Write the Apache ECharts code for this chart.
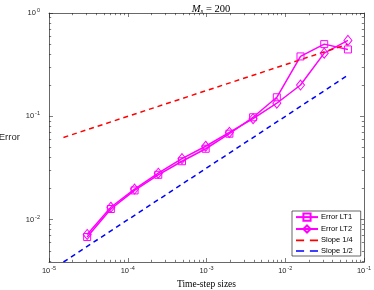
<!DOCTYPE html>
<html><head><meta charset="utf-8">
<script src="https://cdn.jsdelivr.net/npm/echarts@6/dist/echarts.min.js"></script>
<style>html,body{margin:0;padding:0;background:#fff}#c{width:374px;height:290px}</style>
</head><body><div id="c"></div>
<script>
// Data
const dt = [3.0518e-5, 6.1035e-5, 1.2207e-4, 2.4414e-4, 4.8828e-4, 9.7656e-4, 1.9531e-3, 3.9063e-3, 7.8125e-3, 1.5625e-2, 3.125e-2, 6.25e-2];
const errLT1 = [0.0068, 0.0127, 0.0192, 0.0272, 0.0368, 0.0486, 0.068, 0.098, 0.153, 0.38, 0.50, 0.444];
const errLT2 = [0.0072, 0.0132, 0.0198, 0.0282, 0.039, 0.0514, 0.070, 0.095, 0.134, 0.201, 0.409, 0.543];
const slopeX = [1.5259e-5, 6.25e-2];
const slope14Y = [0.0625, 0.5];
const slope12Y = [0.0039, 0.25];
const xMajor = [1e-5, 1e-4, 1e-3, 1e-2, 1e-1];
const yMajor = [1e-2, 1e-1, 1];
const names = ['Error LT1', 'Error LT2', 'Slope 1/4', 'Slope 1/2'];
const xMin = 1e-5, xMax = 1e-1, yMin = 0.0039, yMax = 1;

function minorVals(lo, hi) {
  const out = [];
  for (let e = Math.floor(Math.log10(lo)); e < Math.ceil(Math.log10(hi)); e++) {
    for (let m = 2; m <= 9; m++) {
      const v = m * Math.pow(10, e);
      if (v > lo && v < hi) out.push(v);
    }
  }
  return out;
}
const xMinor = minorVals(xMin, xMax);
const yMinor = minorVals(yMin, yMax);
const axisCol = '#262626';
const sans = 'Liberation Sans';
const serif = 'Liberation Serif';
function powLabel(v) {
  const e = Math.round(Math.log10(v));
  return '{b|10}{e|' + e + '}';
}
const rich = {
  b: {fontFamily: sans, fontSize: 7.5, color: axisCol, lineHeight: 11, verticalAlign: 'middle'},
  e: {fontFamily: sans, fontSize: 5.5, color: axisCol, lineHeight: 11, verticalAlign: 'top', padding: [0, 0, 0, 1]}
};
function xAx(pos, major, withLabel) {
  return {
    type: 'log', min: xMin, max: xMax, position: pos,
    axisLine: {show: major, lineStyle: {color: axisCol, width: 0.7}},
    axisTick: {show: true, inside: true, length: major ? 4 : 2.2, customValues: major ? xMajor : xMinor,
      lineStyle: {color: axisCol, width: 0.6}},
    axisLabel: withLabel ? {show: true, customValues: xMajor, formatter: powLabel, rich: rich, margin: 3} : {show: false},
    splitLine: {show: false}, minorTick: {show: false}
  };
}
function yAx(pos, major, withLabel) {
  return {
    type: 'log', min: yMin, max: yMax, position: pos,
    axisLine: {show: major, lineStyle: {color: axisCol, width: 0.7}},
    axisTick: {show: true, inside: true, length: major ? 4 : 2.2, customValues: major ? yMajor : yMinor,
      lineStyle: {color: axisCol, width: 0.6}},
    axisLabel: withLabel ? {show: true, customValues: yMajor, formatter: powLabel, rich: rich, margin: 9} : {show: false},
    splitLine: {show: false}, minorTick: {show: false}
  };
}
const xAxes = [xAx('bottom', true, true), xAx('bottom', false, false), xAx('top', true, false), xAx('top', false, false)];
xAxes[0].name = 'Time-step sizes';
xAxes[0].nameLocation = 'middle';
xAxes[0].nameGap = 17;
xAxes[0].nameTextStyle = {fontFamily: serif, fontSize: 9.5, color: '#000'};
const yAxes = [yAx('left', true, true), yAx('left', false, false), yAx('right', true, false), yAx('right', false, false)];
yAxes[0].name = 'Error';
yAxes[0].nameLocation = 'middle';
yAxes[0].nameRotate = 0;
yAxes[0].nameGap = 25;
yAxes[0].nameTextStyle = {fontFamily: sans, fontSize: 9.5, color: axisCol, align: 'right'};

const pair = (xs, ys) => xs.map((x, i) => [x, ys[i]]);
const magenta = '#ff00ff';
const dashIcon = 'path://M0,0h7v1.5h-7z M12,0h7v1.5h-7z';
const chart = echarts.init(document.getElementById('c'), null, {renderer: 'canvas'});
chart.setOption({
  animation: false,
  backgroundColor: '#fff',
  title: {
    text: '{i|M}{s|s}{n| = 200}', left: 206, textAlign: 'center', top: -3,
    textStyle: {fontWeight: 'normal', rich: {
      i: {fontFamily: serif, fontStyle: 'italic', fontWeight: 'normal', fontSize: 10.5, color: '#000', verticalAlign: 'bottom', lineHeight: 13},
      s: {fontFamily: serif, fontStyle: 'italic', fontWeight: 'normal', fontSize: 7, color: '#000', verticalAlign: 'bottom', lineHeight: 11},
      n: {fontFamily: serif, fontWeight: 'normal', fontSize: 10.5, color: '#000', verticalAlign: 'bottom', lineHeight: 13}
    }}
  },
  grid: {left: 49, right: 10, top: 13, bottom: 28, containLabel: false, outerBoundsMode: 'none'},
  xAxis: xAxes,
  yAxis: yAxes,
  legend: {
    data: [
      {name: names[0]},
      {name: names[1]},
      {name: names[2], icon: dashIcon, itemStyle: {color: '#ff0000', borderWidth: 0}},
      {name: names[3], icon: dashIcon, itemStyle: {color: '#0000ff', borderWidth: 0}}
    ],
    orient: 'vertical', left: 292, top: 211,
    backgroundColor: '#fff', borderColor: axisCol, borderWidth: 0.7,
    padding: [1.5, 8, 1, 3], itemGap: 2.7, itemWidth: 22, itemHeight: 9,
    textStyle: {fontFamily: sans, fontSize: 7.5, color: '#000', padding: [0, 0, 0, -2]}
  },
  series: [
    {name: names[0], type: 'line', data: pair(dt, errLT1), symbol: 'rect', symbolSize: 7,
      lineStyle: {color: magenta, width: 1.5},
      itemStyle: {color: 'rgba(255,255,255,0)', borderColor: magenta, borderWidth: 1}},
    {name: names[1], type: 'line', data: pair(dt, errLT2), symbol: 'diamond', symbolSize: [8, 10],
      lineStyle: {color: magenta, width: 1.5},
      itemStyle: {color: 'rgba(255,255,255,0)', borderColor: magenta, borderWidth: 1}},
    {name: names[2], type: 'line', data: pair(slopeX, slope14Y), symbol: 'none',
      lineStyle: {color: '#ff0000', width: 1.5, type: [5, 4]}, itemStyle: {color: '#ff0000'}},
    {name: names[3], type: 'line', data: pair(slopeX, slope12Y), symbol: 'none',
      lineStyle: {color: '#0000ff', width: 1.5, type: [5, 4]}, itemStyle: {color: '#0000ff'}}
  ]
});
</script></body></html>
